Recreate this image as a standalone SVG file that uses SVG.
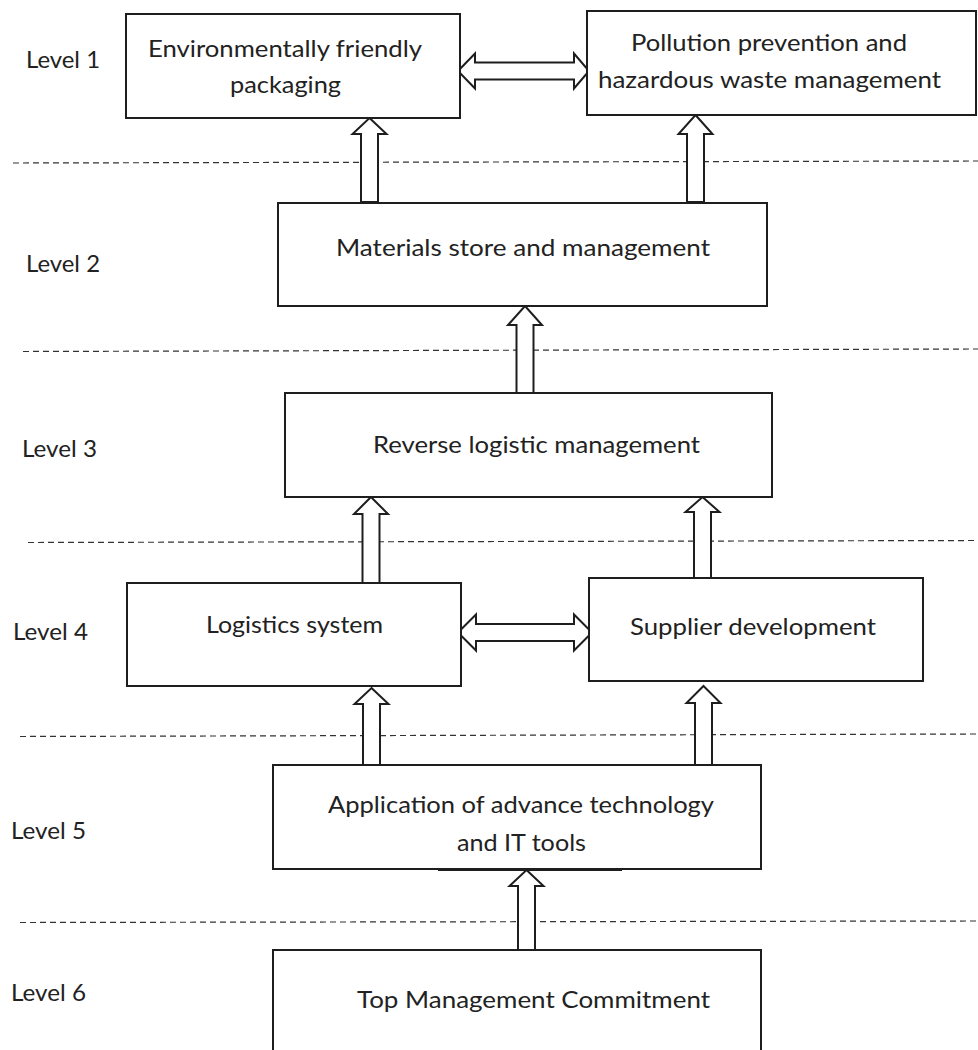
<svg xmlns="http://www.w3.org/2000/svg" width="978" height="1050" viewBox="0 0 978 1050">
<style>
.box{fill:#fff;stroke:#1e1e1e;stroke-width:2}
.arr{fill:#fff;stroke:#1e1e1e;stroke-width:2;stroke-linejoin:miter}
.dash{stroke:#333;stroke-width:1.2;stroke-dasharray:6 4;fill:none}
.t{font-family:Lato,"Open Sans","Liberation Sans",sans-serif;font-size:23px;fill:#222}
.lv{font-family:Lato,"Open Sans","Liberation Sans",sans-serif;font-size:23px;fill:#222}
</style>
<rect width="978" height="1050" fill="#fff"/>
<g id="levels">
<text class="lv" x="26" y="68" textLength="74" lengthAdjust="spacingAndGlyphs">Level 1</text>
<text class="lv" x="26" y="272" textLength="74" lengthAdjust="spacingAndGlyphs">Level 2</text>
<text class="lv" x="22" y="457" textLength="75" lengthAdjust="spacingAndGlyphs">Level 3</text>
<text class="lv" x="13" y="640" textLength="75" lengthAdjust="spacingAndGlyphs">Level 4</text>
<text class="lv" x="11" y="839" textLength="75" lengthAdjust="spacingAndGlyphs">Level 5</text>
<text class="lv" x="11" y="1001" textLength="75" lengthAdjust="spacingAndGlyphs">Level 6</text>
</g>
<g id="separators">
<line class="dash" x1="13" y1="163" x2="978" y2="161"/>
<line class="dash" x1="23" y1="351.5" x2="978" y2="349"/>
<line class="dash" x1="28" y1="542.5" x2="978" y2="540.5"/>
<line class="dash" x1="20" y1="736.5" x2="978" y2="734"/>
<line class="dash" x1="20" y1="922.5" x2="978" y2="921"/>
</g>
<g id="connectors">
<path class="arr" d="M369.5,118 L386.5,134 L378,134 L378,202 L361,202 L361,134 L352.5,134 Z"/>
<path class="arr" d="M695.5,115 L712.5,134 L704,134 L704,202 L687,202 L687,134 L678.5,134 Z"/>
<path class="arr" d="M525,306 L542,325 L533.5,325 L533.5,393 L516.5,393 L516.5,325 L508,325 Z"/>
<path class="arr" d="M371,497 L388,514 L379.5,514 L379.5,583 L362.5,583 L362.5,514 L354,514 Z"/>
<path class="arr" d="M702.5,497 L719.5,512 L711,512 L711,578 L694,578 L694,512 L685.5,512 Z"/>
<path class="arr" d="M371.5,688 L388.5,704 L380,704 L380,767 L363,767 L363,704 L354.5,704 Z"/>
<path class="arr" d="M703.5,686 L720.5,703 L712,703 L712,766 L695,766 L695,703 L686.5,703 Z"/>
<path class="arr" d="M526.5,870 L543.5,886 L535,886 L535,950 L518,950 L518,886 L509.5,886 Z"/>
<path class="arr" d="M458,71 L475,53.5 L475,62.5 L574,62.5 L574,53.5 L589,71 L574,88.5 L574,79.5 L475,79.5 L475,88.5 Z"/>
<path class="arr" d="M458,632.5 L476,614.5 L476,624 L574,624 L574,614.5 L592,632.5 L574,650.5 L574,641 L476,641 L476,650.5 Z"/>
</g>
<g id="n1">
<rect class="box" x="126" y="14" width="334" height="104"/>
<text class="t" x="148" y="57" textLength="274" lengthAdjust="spacingAndGlyphs">Environmentally friendly</text>
<text class="t" x="230" y="93" textLength="111" lengthAdjust="spacingAndGlyphs">packaging</text>
</g>
<g id="n2">
<rect class="box" x="587" y="11" width="389" height="104"/>
<text class="t" x="631" y="51" textLength="276" lengthAdjust="spacingAndGlyphs">Pollution prevention and</text>
<text class="t" x="598" y="88" textLength="343" lengthAdjust="spacingAndGlyphs">hazardous waste management</text>
</g>
<g id="n3">
<rect class="box" x="278" y="203" width="489" height="103"/>
<text class="t" x="336" y="256" textLength="374" lengthAdjust="spacingAndGlyphs">Materials store and management</text>
</g>
<g id="n4">
<rect class="box" x="285" y="393" width="487" height="104"/>
<text class="t" x="373" y="453" textLength="327" lengthAdjust="spacingAndGlyphs">Reverse logistic management</text>
</g>
<g id="n5">
<rect class="box" x="127" y="583" width="334" height="103"/>
<text class="t" x="206" y="633" textLength="177" lengthAdjust="spacingAndGlyphs">Logistics system</text>
</g>
<g id="n6">
<rect class="box" x="589" y="578" width="334" height="103"/>
<text class="t" x="630" y="635" textLength="246" lengthAdjust="spacingAndGlyphs">Supplier development</text>
</g>
<g id="n7">
<rect class="box" x="273" y="765" width="488" height="104"/>
<line x1="438" y1="869.5" x2="622" y2="869.5" stroke="#1e1e1e" stroke-width="3"/>
<text class="t" x="328" y="813" textLength="386" lengthAdjust="spacingAndGlyphs">Application of advance technology</text>
<text class="t" x="457" y="851" textLength="129" lengthAdjust="spacingAndGlyphs">and IT tools</text>
</g>
<g id="n8">
<rect class="box" x="273" y="950" width="488" height="130"/>
<text class="t" x="357" y="1008" textLength="353" lengthAdjust="spacingAndGlyphs">Top Management Commitment</text>
</g>
</svg>
